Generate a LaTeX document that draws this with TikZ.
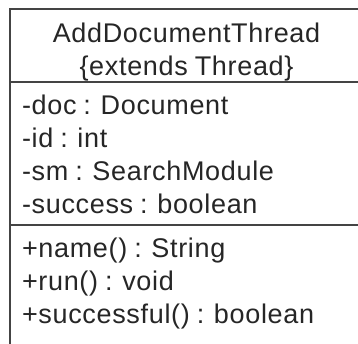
\documentclass[tikz,border=0pt]{standalone}
\usepackage{fontspec}
\setmainfont{Liberation Sans}[LetterSpace=2.5,WordSpace=0.85]
\definecolor{linegray}{HTML}{444444}
\definecolor{textgray}{HTML}{262626}
\tikzset{
  umltext/.style={inner sep=0pt, outer sep=0pt, text=textgray, font=\fontsize{27}{33}\selectfont},
  member/.style={umltext, anchor=base west},
  title/.style={umltext, anchor=base},
  boxline/.style={draw=linegray, line width=2pt}
}
\begin{document}
\begin{tikzpicture}[x=1pt,y=1pt]
\useasboundingbox (0,0) rectangle (358,-343);
\clip (0,0) rectangle (358,-343);
\fill[white] (0,0) rectangle (358,-343);
% class box
\draw[boxline] (10,-360) -- (10,-9) -- (365,-9) -- (365,-360);
\draw[boxline] (10,-82) -- (365,-82);
\draw[boxline] (10,-225) -- (365,-225);
% title
\node[title] (t1) at (186.5,-42) {AddDocumentThread};
\node[title] (t2) at (186.5,-75) {\{extends Thread\}};
% attributes
\node[member] (a1) at (22,-114) {-doc : Document};
\node[member] (a2) at (22,-147) {-id : int};
\node[member] (a3) at (22,-180) {-sm : SearchModule};
\node[member] (a4) at (22,-213) {-success : boolean};
% methods
\node[member] (m1) at (22,-257) {+name() : String};
\node[member] (m2) at (22,-290) {+run() : void};
\node[member] (m3) at (22,-323) {+successful() : boolean};
\end{tikzpicture}
\end{document}
